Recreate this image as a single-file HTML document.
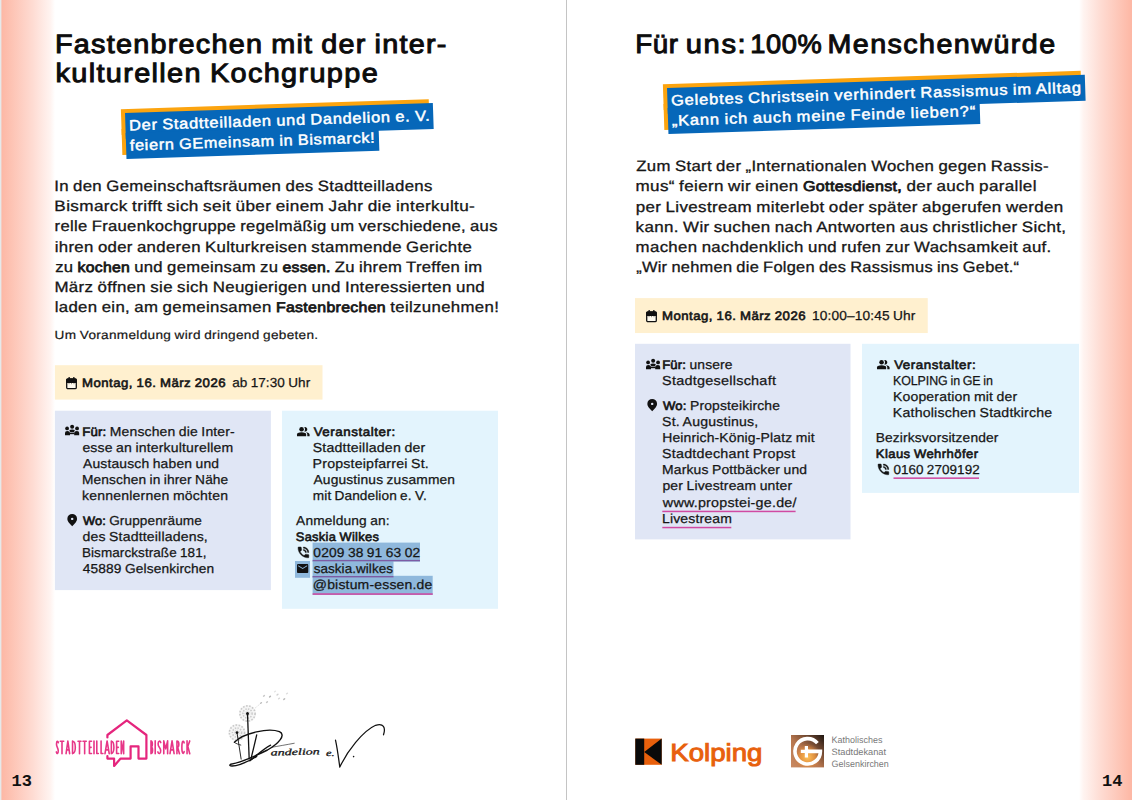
<!DOCTYPE html>
<html lang="de">
<head>
<meta charset="utf-8">
<title>Programmheft S. 13/14</title>
<style>
html,body{margin:0;padding:0;}
body{width:1132px;height:800px;position:relative;overflow:hidden;background:#fff;font-family:"Liberation Sans",sans-serif;}
.abs{position:absolute;}
.t{position:absolute;white-space:nowrap;line-height:1;transform-origin:0 0;font-family:"Liberation Sans",sans-serif;}
.t b{font-weight:400;-webkit-text-stroke:0.045em currentColor;}
.gl{position:absolute;left:1px;top:0;width:54px;height:800px;background:linear-gradient(90deg,#fdb7a4 0%,#fedbd2 58%,#fff4f1 92%,#ffffff 100%);}
.gr{position:absolute;left:1079px;top:0;width:53px;height:800px;background:linear-gradient(270deg,#fdb7a4 0%,#fedbd2 58%,#fff4f1 92%,#ffffff 100%);}
.edge{position:absolute;left:0;top:0;width:2px;height:800px;background:linear-gradient(90deg,#e6e9ea 0,#e6e9ea 1px,#f4ccc1 1px,#f4ccc1 2px);}
.div{position:absolute;left:566px;top:0;width:1px;height:800px;background:#c4c4c4;}
.box{position:absolute;}
.yel{background:#fef0ce;}
.lav{background:#e2e6f6;}
.blu{background:#e3f4fd;}
.lab{position:absolute;transform-origin:0 0;width:0;height:0;}
.or{position:absolute;background:#fca40f;}
.bl{position:absolute;background:#0667b9;}
.hl{position:absolute;background:#8fb8dc;}
.ul{position:absolute;height:1.2px;background:#c4449c;}
.pn{position:absolute;font-family:"Liberation Mono",monospace;font-weight:700;font-size:17px;line-height:1;color:#111;}
svg{position:absolute;overflow:visible;}
</style>
</head>
<body>
<div class="gl"></div>
<div class="gr"></div>
<div class="edge"></div>
<div class="div"></div>

<!-- boxes -->
<svg style="left:0;top:0" width="1132" height="800" viewBox="0 0 1132 800">
<rect x="54.9" y="365.2" width="267.60" height="34.40" fill="#fff0cf"/>
<rect x="54.9" y="410.7" width="216.00" height="179.40" fill="#e0e6f5"/>
<rect x="282" y="410.7" width="216.00" height="198.10" fill="#e3f4fd"/>
<rect x="312.6" y="542.6" width="107.40" height="19.00" fill="#8fb8dc"/>
<rect x="295" y="561" width="15.00" height="16.80" fill="#8fb8dc"/>
<rect x="312.6" y="561" width="80.90" height="16.80" fill="#8fb8dc"/>
<rect x="312.6" y="575.8" width="120.10" height="19.10" fill="#8fb8dc"/>
<rect x="312.6" y="559.9" width="107.40" height="1.40" fill="#7d5ca4"/>
<rect x="312.6" y="576" width="80.90" height="1.40" fill="#7d5ca4"/>
<rect x="312.6" y="593.3" width="120.10" height="1.50" fill="#cf459f"/>
<rect x="635" y="298.1" width="292.75" height="34.95" fill="#fff0cf"/>
<rect x="635" y="343.8" width="215.50" height="195.60" fill="#e0e6f5"/>
<rect x="862" y="343.8" width="217.00" height="149.10" fill="#e3f4fd"/>
<rect x="662.3" y="510.7" width="133.30" height="1.50" fill="#d04aa2"/>
<rect x="662.3" y="526.8" width="69.00" height="1.50" fill="#d04aa2"/>
<rect x="893.5" y="477.4" width="85.50" height="1.50" fill="#cf459f"/>
</svg>

<div class="lab" style="left:125.1px;top:113.15px;transform:rotate(-1.86deg)"><div class="or" style="left:-4px;top:-4px;width:308px;height:25.5px"></div><div class="or" style="left:-4px;top:16px;width:253.3px;height:25.5px"></div><div class="bl" style="left:0;top:0px;width:308px;height:25.5px"></div><div class="bl" style="left:0;top:20px;width:253.3px;height:25.5px"></div><svg style="left:0;top:0" width="10" height="10" font-family="Liberation Sans, sans-serif" text-rendering="geometricPrecision"><text x="3.7" y="17.56" font-size="14.9" fill="#fff" stroke="#fff" stroke-width="0.48" textLength="301.5" lengthAdjust="spacingAndGlyphs" style="word-spacing:-0.670px;letter-spacing:0.696px">Der Stadtteilladen und Dandelion e. V.</text><text x="3.7" y="37.66" font-size="14.9" fill="#fff" stroke="#fff" stroke-width="0.48" textLength="245.8" lengthAdjust="spacingAndGlyphs" style="word-spacing:-0.670px;letter-spacing:0.677px">feiern GEmeinsam in Bismarck!</text></svg></div>
<div class="lab" style="left:667.4px;top:87.7px;transform:rotate(-1.82deg)"><div class="or" style="left:-4px;top:-4px;width:417.6px;height:25.5px"></div><div class="or" style="left:-4px;top:16px;width:312px;height:25.5px"></div><div class="bl" style="left:0;top:0px;width:417.6px;height:25.5px"></div><div class="bl" style="left:0;top:20px;width:312px;height:25.5px"></div><svg style="left:0;top:0" width="10" height="10" font-family="Liberation Sans, sans-serif" text-rendering="geometricPrecision"><text x="3.7" y="17.66" font-size="14.9" fill="#fff" stroke="#fff" stroke-width="0.48" textLength="411.0" lengthAdjust="spacingAndGlyphs" style="word-spacing:-0.670px;letter-spacing:0.767px">Gelebtes Christsein verhindert Rassismus im Alltag</text><text x="3.7" y="37.76" font-size="14.9" fill="#fff" stroke="#fff" stroke-width="0.48" textLength="304.5" lengthAdjust="spacingAndGlyphs" style="word-spacing:-0.670px;letter-spacing:0.792px">„Kann ich auch meine Feinde lieben?“</text></svg></div>
<svg id="txt" style="left:0;top:0" width="1132" height="800" viewBox="0 0 1132 800" font-family="Liberation Sans, sans-serif" text-rendering="geometricPrecision">
<text x="54.94" y="53.31" font-size="26.46" fill="#0c0c0c" stroke="#0c0c0c" stroke-width="0.98" textLength="392.67" lengthAdjust="spacingAndGlyphs" style="word-spacing:-1.191px;letter-spacing:1.142px">Fastenbrechen mit der inter-</text>
<text x="55.49" y="82.21" font-size="26.46" fill="#0c0c0c" stroke="#0c0c0c" stroke-width="0.98" textLength="323.55" lengthAdjust="spacingAndGlyphs" style="word-spacing:-1.191px;letter-spacing:1.231px">kulturellen Kochgruppe</text>
<text x="54.18" y="190.75" font-size="15" fill="#161616" stroke="#161616" stroke-width="0.3" textLength="378.55" lengthAdjust="spacingAndGlyphs" style="word-spacing:-0.675px;letter-spacing:0.291px">In den Gemeinschaftsräumen des Stadtteilladens</text>
<text x="54.39" y="211.03" font-size="15" fill="#161616" stroke="#161616" stroke-width="0.3" textLength="420.81" lengthAdjust="spacingAndGlyphs" style="word-spacing:-0.675px;letter-spacing:0.309px">Bismarck trifft sich seit über einem Jahr die interkultu-</text>
<text x="54.63" y="231.31" font-size="15" fill="#161616" stroke="#161616" stroke-width="0.3" textLength="443.15" lengthAdjust="spacingAndGlyphs" style="word-spacing:-0.675px;letter-spacing:0.268px">relle Frauenkochgruppe regelmäßig um verschiedene, aus</text>
<text x="54.75" y="251.59" font-size="15" fill="#161616" stroke="#161616" stroke-width="0.3" textLength="417.30" lengthAdjust="spacingAndGlyphs" style="word-spacing:-0.675px;letter-spacing:0.288px">ihren oder anderen Kulturkreisen stammende Gerichte</text>
<text x="55.15" y="271.87" font-size="15" fill="#161616" stroke="#161616" stroke-width="0.3" textLength="427.29" lengthAdjust="spacingAndGlyphs" style="word-spacing:-0.675px;letter-spacing:0.269px">zu <tspan stroke-width="0.75" font-size="14.17">kochen</tspan> und gemeinsam zu <tspan stroke-width="0.75" font-size="14.17">essen.</tspan> Zu ihrem Treffen im</text>
<text x="54.44" y="292.15" font-size="15" fill="#161616" stroke="#161616" stroke-width="0.3" textLength="430.65" lengthAdjust="spacingAndGlyphs" style="word-spacing:-0.675px;letter-spacing:0.290px">März öffnen sie sich Neugierigen und Interessierten und</text>
<text x="54.66" y="312.43" font-size="15" fill="#161616" stroke="#161616" stroke-width="0.3" textLength="444.52" lengthAdjust="spacingAndGlyphs" style="word-spacing:-0.675px;letter-spacing:0.298px">laden ein, am gemeinsamen <tspan stroke-width="0.75" font-size="14.17">Fastenbrechen</tspan> teilzunehmen!</text>
<text x="54.59" y="338.75" font-size="12" fill="#161616" stroke="#161616" stroke-width="0.2" textLength="263.85" lengthAdjust="spacingAndGlyphs" style="word-spacing:-0.540px;letter-spacing:0.271px">Um Voranmeldung wird dringend gebeten.</text>
<text x="81.93" y="387.09" font-size="12.29" fill="#161616" stroke="#161616" stroke-width="0.61" textLength="144.15" lengthAdjust="spacingAndGlyphs" style="word-spacing:-0.553px;letter-spacing:0.465px">Montag, 16. März 2026</text>
<text x="232.19" y="387.40" font-size="13" fill="#161616" stroke="#161616" stroke-width="0.25" textLength="78.05" lengthAdjust="spacingAndGlyphs" style="word-spacing:-0.585px;letter-spacing:0.084px">ab 17:30 Uhr</text>
<text x="82.26" y="436.00" font-size="13" fill="#161616" stroke="#161616" stroke-width="0.25" textLength="152.65" lengthAdjust="spacingAndGlyphs" style="word-spacing:-0.585px;letter-spacing:0.147px"><tspan stroke-width="0.65" font-size="12.29">Für:</tspan> Menschen die Inter-</text>
<text x="82.40" y="452.00" font-size="13" fill="#161616" stroke="#161616" stroke-width="0.25" textLength="150.89" lengthAdjust="spacingAndGlyphs" style="word-spacing:-0.585px;letter-spacing:0.154px">esse an interkulturellem</text>
<text x="82.96" y="468.00" font-size="13" fill="#161616" stroke="#161616" stroke-width="0.25" textLength="136.30" lengthAdjust="spacingAndGlyphs" style="word-spacing:-0.585px;letter-spacing:0.154px">Austausch haben und</text>
<text x="82.00" y="484.00" font-size="13" fill="#161616" stroke="#161616" stroke-width="0.25" textLength="146.37" lengthAdjust="spacingAndGlyphs" style="word-spacing:-0.585px;letter-spacing:0.115px">Menschen in ihrer Nähe</text>
<text x="82.11" y="500.00" font-size="13" fill="#161616" stroke="#161616" stroke-width="0.25" textLength="146.03" lengthAdjust="spacingAndGlyphs" style="word-spacing:-0.585px;letter-spacing:0.179px">kennenlernen möchten</text>
<text x="82.96" y="524.50" font-size="13" fill="#161616" stroke="#161616" stroke-width="0.25" textLength="119.02" lengthAdjust="spacingAndGlyphs" style="word-spacing:-0.585px;letter-spacing:0.109px"><tspan stroke-width="0.65" font-size="12.29">Wo:</tspan> Gruppenräume</text>
<text x="82.42" y="540.50" font-size="13" fill="#161616" stroke="#161616" stroke-width="0.25" textLength="125.53" lengthAdjust="spacingAndGlyphs" style="word-spacing:-0.585px;letter-spacing:0.158px">des Stadtteilladens,</text>
<text x="81.98" y="556.50" font-size="13" fill="#161616" stroke="#161616" stroke-width="0.25" textLength="124.59" lengthAdjust="spacingAndGlyphs" style="word-spacing:-0.585px;letter-spacing:0.078px">Bismarckstraße 181,</text>
<text x="82.80" y="572.50" font-size="13" fill="#161616" stroke="#161616" stroke-width="0.25" textLength="131.57" lengthAdjust="spacingAndGlyphs" style="word-spacing:-0.585px;letter-spacing:0.122px">45889 Gelsenkirchen</text>
<text x="313.67" y="435.69" font-size="12.29" fill="#161616" stroke="#161616" stroke-width="0.61" textLength="82.00" lengthAdjust="spacingAndGlyphs" style="word-spacing:-0.553px;letter-spacing:0.502px">Veranstalter:</text>
<text x="312.75" y="452.40" font-size="13" fill="#161616" stroke="#161616" stroke-width="0.25" textLength="112.61" lengthAdjust="spacingAndGlyphs" style="word-spacing:-0.585px;letter-spacing:0.167px">Stadtteilladen der</text>
<text x="312.58" y="468.40" font-size="13" fill="#161616" stroke="#161616" stroke-width="0.25" textLength="116.35" lengthAdjust="spacingAndGlyphs" style="word-spacing:-0.585px;letter-spacing:0.169px">Propsteipfarrei St.</text>
<text x="313.52" y="484.40" font-size="13" fill="#161616" stroke="#161616" stroke-width="0.25" textLength="141.67" lengthAdjust="spacingAndGlyphs" style="word-spacing:-0.585px;letter-spacing:0.141px">Augustinus zusammen</text>
<text x="312.82" y="500.40" font-size="13" fill="#161616" stroke="#161616" stroke-width="0.25" textLength="113.96" lengthAdjust="spacingAndGlyphs" style="word-spacing:-0.585px;letter-spacing:0.093px">mit Dandelion e. V.</text>
<text x="296.09" y="525.00" font-size="13" fill="#161616" stroke="#161616" stroke-width="0.25" textLength="93.58" lengthAdjust="spacingAndGlyphs" style="word-spacing:-0.585px;letter-spacing:0.129px">Anmeldung an:</text>
<text x="295.81" y="540.70" font-size="12.29" fill="#161616" stroke="#161616" stroke-width="0.61" textLength="83.34" lengthAdjust="spacingAndGlyphs" style="word-spacing:-0.553px;letter-spacing:0.287px">Saskia Wilkes</text>
<text x="313.37" y="557.00" font-size="13" fill="#161616" stroke="#161616" stroke-width="0.25" textLength="106.90" lengthAdjust="spacingAndGlyphs" style="word-spacing:-0.585px;letter-spacing:0.125px">0209 38 91 63 02</text>
<text x="313.70" y="573.00" font-size="13" fill="#161616" stroke="#161616" stroke-width="0.25" textLength="79.33" lengthAdjust="spacingAndGlyphs" style="word-spacing:-0.585px;letter-spacing:0.067px">saskia.wilkes</text>
<text x="312.79" y="589.00" font-size="13" fill="#161616" stroke="#161616" stroke-width="0.25" textLength="119.76" lengthAdjust="spacingAndGlyphs" style="word-spacing:-0.585px;letter-spacing:0.175px">@bistum-essen.de</text>
<text x="635.18" y="53.31" font-size="26.46" fill="#0c0c0c" stroke="#0c0c0c" stroke-width="0.98" textLength="43.60" lengthAdjust="spacingAndGlyphs" style="word-spacing:-1.191px;letter-spacing:0.652px">Für</text>
<text x="685.87" y="53.31" font-size="26.46" fill="#0c0c0c" stroke="#0c0c0c" stroke-width="0.98" textLength="61.31" lengthAdjust="spacingAndGlyphs" style="word-spacing:-1.191px;letter-spacing:1.412px">uns:</text>
<text x="750.33" y="53.31" font-size="26.46" fill="#0c0c0c" stroke="#0c0c0c" stroke-width="0.98" textLength="71.82" lengthAdjust="spacingAndGlyphs" style="word-spacing:-1.191px;letter-spacing:0.519px">100%</text>
<text x="827.43" y="53.31" font-size="26.46" fill="#0c0c0c" stroke="#0c0c0c" stroke-width="0.98" textLength="229.15" lengthAdjust="spacingAndGlyphs" style="word-spacing:-1.191px;letter-spacing:1.348px">Menschenwürde</text>
<text x="636.29" y="170.80" font-size="15" fill="#161616" stroke="#161616" stroke-width="0.3" textLength="412.56" lengthAdjust="spacingAndGlyphs" style="word-spacing:-0.675px;letter-spacing:0.282px">Zum Start der „Internationalen Wochen gegen Rassis-</text>
<text x="635.57" y="191.35" font-size="15" fill="#161616" stroke="#161616" stroke-width="0.3" textLength="401.23" lengthAdjust="spacingAndGlyphs" style="word-spacing:-0.675px;letter-spacing:0.302px">mus“ feiern wir einen <tspan stroke-width="0.75" font-size="14.17">Gottesdienst,</tspan> der auch parallel</text>
<text x="635.72" y="211.60" font-size="15" fill="#161616" stroke="#161616" stroke-width="0.3" textLength="427.94" lengthAdjust="spacingAndGlyphs" style="word-spacing:-0.675px;letter-spacing:0.311px">per Livestream miterlebt oder später abgerufen werden</text>
<text x="635.61" y="231.85" font-size="15" fill="#161616" stroke="#161616" stroke-width="0.3" textLength="430.68" lengthAdjust="spacingAndGlyphs" style="word-spacing:-0.675px;letter-spacing:0.300px">kann. Wir suchen nach Antworten aus christlicher Sicht,</text>
<text x="635.63" y="252.10" font-size="15" fill="#161616" stroke="#161616" stroke-width="0.3" textLength="416.01" lengthAdjust="spacingAndGlyphs" style="word-spacing:-0.675px;letter-spacing:0.298px">machen nachdenklich und rufen zur Wachsamkeit auf.</text>
<text x="636.21" y="272.35" font-size="15" fill="#161616" stroke="#161616" stroke-width="0.3" textLength="383.12" lengthAdjust="spacingAndGlyphs" style="word-spacing:-0.675px;letter-spacing:0.231px">„Wir nehmen die Folgen des Rassismus ins Gebet.“</text>
<text x="661.93" y="320.09" font-size="12.29" fill="#161616" stroke="#161616" stroke-width="0.61" textLength="144.15" lengthAdjust="spacingAndGlyphs" style="word-spacing:-0.553px;letter-spacing:0.465px">Montag, 16. März 2026</text>
<text x="812.09" y="320.40" font-size="13" fill="#161616" stroke="#161616" stroke-width="0.25" textLength="103.31" lengthAdjust="spacingAndGlyphs" style="word-spacing:-0.585px;letter-spacing:0.117px">10:00–10:45 Uhr</text>
<text x="662.21" y="368.90" font-size="13" fill="#161616" stroke="#161616" stroke-width="0.25" textLength="70.53" lengthAdjust="spacingAndGlyphs" style="word-spacing:-0.585px;letter-spacing:0.135px"><tspan stroke-width="0.65" font-size="12.29">Für:</tspan> unsere</text>
<text x="662.10" y="385.10" font-size="13" fill="#161616" stroke="#161616" stroke-width="0.25" textLength="114.06" lengthAdjust="spacingAndGlyphs" style="word-spacing:-0.585px;letter-spacing:0.221px">Stadtgesellschaft</text>
<text x="663.02" y="410.00" font-size="13" fill="#161616" stroke="#161616" stroke-width="0.25" textLength="117.08" lengthAdjust="spacingAndGlyphs" style="word-spacing:-0.585px;letter-spacing:0.140px"><tspan stroke-width="0.65" font-size="12.29">Wo:</tspan> Propsteikirche</text>
<text x="662.09" y="426.10" font-size="13" fill="#161616" stroke="#161616" stroke-width="0.25" textLength="96.35" lengthAdjust="spacingAndGlyphs" style="word-spacing:-0.585px;letter-spacing:0.170px">St. Augustinus,</text>
<text x="662.19" y="442.20" font-size="13" fill="#161616" stroke="#161616" stroke-width="0.25" textLength="152.54" lengthAdjust="spacingAndGlyphs" style="word-spacing:-0.585px;letter-spacing:0.143px">Heinrich-König-Platz mit</text>
<text x="661.98" y="458.25" font-size="13" fill="#161616" stroke="#161616" stroke-width="0.25" textLength="133.49" lengthAdjust="spacingAndGlyphs" style="word-spacing:-0.585px;letter-spacing:0.214px">Stadtdechant Propst</text>
<text x="661.99" y="474.30" font-size="13" fill="#161616" stroke="#161616" stroke-width="0.25" textLength="145.21" lengthAdjust="spacingAndGlyphs" style="word-spacing:-0.585px;letter-spacing:0.151px">Markus Pottbäcker und</text>
<text x="662.43" y="490.40" font-size="13" fill="#161616" stroke="#161616" stroke-width="0.25" textLength="129.84" lengthAdjust="spacingAndGlyphs" style="word-spacing:-0.585px;letter-spacing:0.147px">per Livestream unter</text>
<text x="662.88" y="506.50" font-size="13" fill="#161616" stroke="#161616" stroke-width="0.25" textLength="133.81" lengthAdjust="spacingAndGlyphs" style="word-spacing:-0.585px;letter-spacing:0.211px">www.propstei-ge.de/</text>
<text x="661.93" y="522.50" font-size="13" fill="#161616" stroke="#161616" stroke-width="0.25" textLength="70.21" lengthAdjust="spacingAndGlyphs" style="word-spacing:-0.585px;letter-spacing:0.166px">Livestream</text>
<text x="894.16" y="369.19" font-size="12.29" fill="#161616" stroke="#161616" stroke-width="0.61" textLength="82.10" lengthAdjust="spacingAndGlyphs" style="word-spacing:-0.553px;letter-spacing:0.506px">Veranstalter:</text>
<text x="893.02" y="385.40" font-size="13" fill="#161616" stroke="#161616" stroke-width="0.25" textLength="99.84" lengthAdjust="spacingAndGlyphs" style="word-spacing:-0.585px;letter-spacing:-0.095px">KOLPING in GE in</text>
<text x="892.91" y="401.40" font-size="13" fill="#161616" stroke="#161616" stroke-width="0.25" textLength="124.43" lengthAdjust="spacingAndGlyphs" style="word-spacing:-0.585px;letter-spacing:0.160px">Kooperation mit der</text>
<text x="892.89" y="417.40" font-size="13" fill="#161616" stroke="#161616" stroke-width="0.25" textLength="159.49" lengthAdjust="spacingAndGlyphs" style="word-spacing:-0.585px;letter-spacing:0.177px">Katholischen Stadtkirche</text>
<text x="875.66" y="442.00" font-size="13" fill="#161616" stroke="#161616" stroke-width="0.25" textLength="122.92" lengthAdjust="spacingAndGlyphs" style="word-spacing:-0.585px;letter-spacing:0.125px">Bezirksvorsitzender</text>
<text x="875.78" y="457.69" font-size="12.29" fill="#161616" stroke="#161616" stroke-width="0.61" textLength="102.64" lengthAdjust="spacingAndGlyphs" style="word-spacing:-0.553px;letter-spacing:0.398px">Klaus Wehrhöfer</text>
<text x="893.40" y="473.75" font-size="13" fill="#161616" stroke="#161616" stroke-width="0.25" textLength="86.43" lengthAdjust="spacingAndGlyphs" style="word-spacing:-0.585px;letter-spacing:0.081px">0160 2709192</text>
</svg>

<svg style="left:66.2px;top:376.8px" width="11" height="12.4" viewBox="0 0 11 12.4"><rect x="0.7" y="1.9" width="9.6" height="9.8" rx="1.2" fill="#fffbef" stroke="#111" stroke-width="1.3"/><path d="M0.1 6 V3 Q0.1 1.5 1.5 1.5 H9.5 Q10.9 1.5 10.9 3 V6 Z" fill="#111"/><rect x="2.5" y="0" width="1.3" height="2.4" fill="#111"/><rect x="7.2" y="0" width="1.3" height="2.4" fill="#111"/><rect x="2.6" y="6" width="0.8" height="1.2" fill="#8a8578"/><rect x="5.1" y="6" width="0.8" height="1.2" fill="#8a8578"/><rect x="7.6" y="6" width="0.8" height="1.2" fill="#8a8578"/></svg>
<svg style="left:65px;top:425.2px" width="14.2" height="10.2" viewBox="0 0 14.2 10.2"><circle cx="2.1" cy="3.4" r="1.9" fill="#111"/><circle cx="7.15" cy="1.85" r="2.0" fill="#111"/><circle cx="12.1" cy="3.4" r="1.9" fill="#111"/><path d="M4.3 4.9 Q7.1 4.3 9.9 4.9 L8.9 7.3 H5.3 Z" fill="#111"/><path d="M0 10.2 V7.9 Q0 6.0 2.3 6.0 Q5 6.0 5 7.9 V10.2 Z" fill="#111"/><path d="M9.2 10.2 V7.9 Q9.2 6.0 11.9 6.0 Q14.2 6.0 14.2 7.9 V10.2 Z" fill="#111"/><rect x="4.6" y="7.8" width="5" height="1.4" fill="#111"/></svg>
<svg style="left:66.9px;top:513.7px" width="10.4" height="12.2" viewBox="4 2 16 20"><path d="M12 12q.825 0 1.413-.587T14 10t-.587-1.412T12 8t-1.412.588T10 10t.588 1.413T12 12m0 10q-4.025-3.425-6.012-6.362T4 10.2q0-3.750 2.413-5.975T12 2t5.588 2.225T20 10.2q0 2.500-1.987 5.438T12 22" fill="#111" fill-rule="evenodd"/></svg>
<svg style="left:296.7px;top:426.7px" width="12.6" height="9.2" viewBox="1 4 22 16"><circle cx="9" cy="8" r="4" fill="#111"/><path d="M1 20 v-2.8 q0-1.8 1.6-2.65 q3-1.55 6.4-1.55 t6.4 1.55 q1.600.85 1.600 2.650 V20 Z" fill="#111"/><path d="M13.6 4.200 q.7-.2 1.4-.2 q1.650 0 2.825 1.175 T19 8 t-1.175 2.825 T15 12 q-.7 0-1.400-.2 q1.400-1.600 1.400-3.800 t-1.400-3.800 Z" fill="#111"/><path d="M19 20 v-3 q0-2.300-2.350-3.850 q2.500.3 4.500 1.400 q1.850 1 1.850 2.450 v3 Z" fill="#111"/></svg>
<svg style="left:297.6px;top:547.2px" width="10.8" height="10.8" viewBox="3 3 18 18"><path d="M20 15.5c-1.250 0-2.450-.2-3.570-.57-.35-.11-.74-.03-1.020.24l-2.200 2.200c-2.830-1.440-5.150-3.750-6.590-6.590l2.200-2.210c.28-.26.36-.65.25-1C8.700 6.450 8.500 5.250 8.500 4c0-.55-.45-1-1-1H4c-.55 0-1 .45-1 1 0 9.390 7.610 17 17 17 .55 0 1-.45 1-1v-3.500c0-.55-.45-1-1-1zM19 12h2c0-4.970-4.030-9-9-9v2c3.870 0 7 3.130 7 7zm-4 0h2c0-2.760-2.240-5-5-5v2c1.660 0 3 1.340 3 3z" fill="#111" stroke="#111" stroke-width="0.7"/></svg>
<svg style="left:297px;top:564px" width="11.3" height="9" viewBox="2 4 20 16"><path d="M20 4H4c-1.100 0-1.990.9-1.990 2L2 18c0 1.100.9 2 2 2h16c1.100 0 2-.9 2-2V6c0-1.100-.9-2-2-2zm0 4l-8 5-8-5V6l8 5 8-5v2z" fill="#111"/></svg>
<svg style="left:646.3px;top:309.8px" width="11" height="12.4" viewBox="0 0 11 12.4"><rect x="0.7" y="1.9" width="9.6" height="9.8" rx="1.2" fill="#fffbef" stroke="#111" stroke-width="1.3"/><path d="M0.1 6 V3 Q0.1 1.5 1.5 1.5 H9.5 Q10.9 1.5 10.9 3 V6 Z" fill="#111"/><rect x="2.5" y="0" width="1.3" height="2.4" fill="#111"/><rect x="7.2" y="0" width="1.3" height="2.4" fill="#111"/><rect x="2.6" y="6" width="0.8" height="1.2" fill="#8a8578"/><rect x="5.1" y="6" width="0.8" height="1.2" fill="#8a8578"/><rect x="7.6" y="6" width="0.8" height="1.2" fill="#8a8578"/></svg>
<svg style="left:645.6px;top:359.3px" width="14.2" height="10.2" viewBox="0 0 14.2 10.2"><circle cx="2.1" cy="3.4" r="1.9" fill="#111"/><circle cx="7.15" cy="1.85" r="2.0" fill="#111"/><circle cx="12.1" cy="3.4" r="1.9" fill="#111"/><path d="M4.3 4.9 Q7.1 4.3 9.9 4.9 L8.9 7.3 H5.3 Z" fill="#111"/><path d="M0 10.2 V7.9 Q0 6.0 2.3 6.0 Q5 6.0 5 7.9 V10.2 Z" fill="#111"/><path d="M9.2 10.2 V7.9 Q9.2 6.0 11.9 6.0 Q14.2 6.0 14.2 7.9 V10.2 Z" fill="#111"/><rect x="4.6" y="7.8" width="5" height="1.4" fill="#111"/></svg>
<svg style="left:647px;top:399.2px" width="10.4" height="12.2" viewBox="4 2 16 20"><path d="M12 12q.825 0 1.413-.587T14 10t-.587-1.412T12 8t-1.412.588T10 10t.588 1.413T12 12m0 10q-4.025-3.425-6.012-6.362T4 10.2q0-3.750 2.413-5.975T12 2t5.588 2.225T20 10.2q0 2.500-1.987 5.438T12 22" fill="#111" fill-rule="evenodd"/></svg>
<svg style="left:877.1px;top:359.5px" width="12.6" height="9.2" viewBox="1 4 22 16"><circle cx="9" cy="8" r="4" fill="#111"/><path d="M1 20 v-2.8 q0-1.8 1.6-2.65 q3-1.55 6.4-1.55 t6.4 1.55 q1.600.85 1.600 2.650 V20 Z" fill="#111"/><path d="M13.6 4.200 q.7-.2 1.4-.2 q1.650 0 2.825 1.175 T19 8 t-1.175 2.825 T15 12 q-.7 0-1.400-.2 q1.400-1.600 1.400-3.800 t-1.400-3.800 Z" fill="#111"/><path d="M19 20 v-3 q0-2.300-2.350-3.850 q2.500.3 4.500 1.400 q1.850 1 1.850 2.450 v3 Z" fill="#111"/></svg>
<svg style="left:877.7px;top:464.0px" width="10.8" height="10.8" viewBox="3 3 18 18"><path d="M20 15.5c-1.250 0-2.450-.2-3.570-.57-.35-.11-.74-.03-1.020.24l-2.200 2.200c-2.830-1.440-5.150-3.750-6.590-6.590l2.200-2.210c.28-.26.36-.65.25-1C8.700 6.450 8.500 5.250 8.500 4c0-.55-.45-1-1-1H4c-.55 0-1 .45-1 1 0 9.390 7.610 17 17 17 .55 0 1-.45 1-1v-3.500c0-.55-.45-1-1-1zM19 12h2c0-4.970-4.030-9-9-9v2c3.870 0 7 3.130 7 7zm-4 0h2c0-2.760-2.240-5-5-5v2c1.660 0 3 1.340 3 3z" fill="#111" stroke="#111" stroke-width="0.7"/></svg>
<svg style="left:0;top:0" width="1132" height="800" viewBox="0 0 1132 800"><path d="M107.4 737.4 V735 L126.8 720.3 L146.4 735 V758.6 H138.5 V746.3 H130.6 V758.6 H120.6 L114.1 765.9 V758.6 H107.4 V756.1" fill="none" stroke="#e5257d" stroke-width="2.2" stroke-linejoin="round" stroke-linecap="round"/><path d="M 58.30 742.65 C 57.88 740.62 56.61 740.62 56.51 743.92 C 56.41 746.97 58.19 747.60 58.25 750.78 C 58.32 754.08 56.83 754.21 56.34 751.92 M 60.30 741.25 H 63.70 M 62.00 741.25 V 753.70 M 66.07 753.70 L 67.85 741.00 L 69.63 753.70 M 66.81 749.89 H 68.89 M 72.54 741.00 V 753.70 M 72.54 741.25 C 74.86 741.25 75.30 744.81 75.30 747.35 C 75.30 749.89 74.86 753.45 72.54 753.45 M 78.00 741.25 H 81.00 M 79.50 741.25 V 753.70 M 83.00 741.25 H 86.30 M 84.65 741.25 V 753.70 M 91.49 741.25 H 89.41 V 753.45 H 91.49 M 89.41 747.35 H 91.14 M 94.00 741.00 V 753.70 M 96.78 741.00 V 753.45 H 98.30 M 101.09 741.00 V 753.45 H 102.90 M 104.99 753.70 L 107.10 741.00 L 109.21 753.70 M 105.87 749.89 H 108.33 M 111.34 741.00 V 753.70 M 111.34 741.25 C 113.50 741.25 113.90 744.81 113.90 747.35 C 113.90 749.89 113.50 753.45 111.34 753.45 M 118.69 741.25 H 116.61 V 753.45 H 118.69 M 116.61 747.35 H 118.34 M 121.23 753.70 V 741.00 L 123.66 753.70 V 741.00 M 151.00 740.90 V 753.70 M 151.00 741.16 C 152.80 741.16 152.80 747.04 151.00 747.04 M 151.00 747.04 C 153.08 747.04 153.08 753.44 151.00 753.44 M 155.20 740.90 V 753.70 M 160.74 742.56 C 160.12 740.52 158.27 740.52 158.11 743.84 C 157.96 746.92 160.59 747.56 160.68 750.76 C 160.78 754.08 158.57 754.21 157.86 751.91 M 163.77 753.70 V 740.90 L 165.70 748.84 L 167.63 740.90 V 753.70 M 169.99 753.70 L 172.05 740.90 L 174.11 753.70 M 170.85 749.86 H 173.25 M 176.94 753.70 V 741.16 C 179.50 741.16 179.50 747.56 176.94 747.56 M 177.75 747.56 L 179.45 753.70 M 184.13 742.95 C 183.72 740.26 181.87 740.13 181.87 747.30 C 181.87 754.47 183.72 754.34 184.13 751.65 M 187.05 740.90 V 753.70 M 189.74 740.90 L 187.05 748.58 M 187.83 746.28 L 189.74 753.70" fill="none" stroke="#e5257d" stroke-width="1.6" stroke-linejoin="round" stroke-linecap="round" opacity="0.92"/></svg>
<svg style="left:0;top:0" width="1132" height="800" viewBox="0 0 1132 800"><defs><radialGradient id="dg"><stop offset="0" stop-color="#777" stop-opacity=".55"/><stop offset=".7" stop-color="#999" stop-opacity=".35"/><stop offset="1" stop-color="#bbb" stop-opacity="0"/></radialGradient></defs><circle cx="247.5" cy="713.5" r="8.6" fill="#999" opacity="0.10"/><circle cx="247.5" cy="713.5" r="7.6" fill="none" stroke="#8a8a8a" stroke-width="1.6" stroke-dasharray="1.6 1.5" opacity="0.42"/><circle cx="247.5" cy="713.5" r="4.6" fill="none" stroke="#8a8a8a" stroke-width="1.5" stroke-dasharray="1.4 1.3" opacity="0.40"/><circle cx="247.5" cy="713.5" r="2.4" fill="none" stroke="#8a8a8a" stroke-width="1" stroke-dasharray="1 1" opacity="0.35"/><circle cx="237.0" cy="732.6" r="8.6" fill="#999" opacity="0.10"/><circle cx="237.0" cy="732.6" r="7.6" fill="none" stroke="#8a8a8a" stroke-width="1.6" stroke-dasharray="1.6 1.5" opacity="0.42"/><circle cx="237.0" cy="732.6" r="4.6" fill="none" stroke="#8a8a8a" stroke-width="1.5" stroke-dasharray="1.4 1.3" opacity="0.40"/><circle cx="237.0" cy="732.6" r="2.4" fill="none" stroke="#8a8a8a" stroke-width="1" stroke-dasharray="1 1" opacity="0.35"/><circle cx="247.5" cy="713.5" r="1.5" fill="#111"/><circle cx="237" cy="732.6" r="1.4" fill="#111"/><path d="M247.5 713.5 L249.2 759.5" stroke="#111" stroke-width="1.3" fill="none"/><path d="M237 732.6 L241.2 759.5" stroke="#111" stroke-width="0.9" fill="none"/><path d="M255 708.2 L260 704" stroke="#999" stroke-width="0.6" stroke-dasharray="1 1" fill="none" opacity=".6"/><ellipse cx="261" cy="703" rx="1.3" ry="0.8" transform="rotate(-40 261 703)" fill="#777" opacity="0.5"/><ellipse cx="267" cy="702.2" rx="1.3" ry="0.8" transform="rotate(-40 267 702.2)" fill="#777" opacity="0.4"/><ellipse cx="264" cy="695.9" rx="1.3" ry="0.8" transform="rotate(-40 264 695.9)" fill="#777" opacity="0.4"/><ellipse cx="270" cy="696.6" rx="1.3" ry="0.8" transform="rotate(-40 270 696.6)" fill="#777" opacity="0.55"/><ellipse cx="277.5" cy="694.7" rx="1.3" ry="0.8" transform="rotate(-40 277.5 694.7)" fill="#777" opacity="0.35"/><ellipse cx="279" cy="698.5" rx="1.3" ry="0.8" transform="rotate(-40 279 698.5)" fill="#777" opacity="0.3"/><ellipse cx="284.2" cy="699.2" rx="1.3" ry="0.8" transform="rotate(-40 284.2 699.2)" fill="#777" opacity="0.5"/><ellipse cx="287" cy="693.5" rx="1.3" ry="0.8" transform="rotate(-40 287 693.5)" fill="#777" opacity="0.25"/><ellipse cx="275" cy="691.5" rx="1.3" ry="0.8" transform="rotate(-40 275 691.5)" fill="#777" opacity="0.2"/><path d="M234.4 742.3 C243.6 732.5 269.1 727.7 279.4 731.7 C286.5 734.8 278.6 743.6 267.5 750.0 C254.7 756.3 238.8 762.7 230.6 764.3 C227.7 766.6 234.1 766.6 240.4 764.3 C246.8 761.9 253.2 758.7 256.7 756.3" stroke="#111" stroke-width="1.4" fill="none" stroke-linecap="round"/><path d="M256.7 734.8 C254.7 743.6 252.4 753.1 250.6 760.3 C256.3 755.5 264.3 748.4 270.6 745.2" stroke="#111" stroke-width="1.3" fill="none" stroke-linecap="round"/><path d="M234.4 742.3 C235.7 743.6 238.8 744.4 241.2 745.2" stroke="#111" stroke-width="0.8" fill="none"/><path d="M335.5 740.1 C337.4 748.4 338.7 759.5 339.8 767.1 C347.0 751.5 362.9 730.9 375.6 725.3 C383.5 722.6 385.9 727.7 383.5 734.8" stroke="#111" stroke-width="1.25" fill="none" stroke-linecap="round" stroke-linejoin="round"/><circle cx="353.6" cy="756.6" r="0.8" fill="#111"/></svg>
<svg style="left:0;top:0" width="1132" height="800" viewBox="0 0 1132 800" font-family="Liberation Serif, serif" font-style="italic" text-rendering="geometricPrecision"><text x="270.8" y="755.6" font-size="9.2" fill="#111" stroke="#111" stroke-width="0.25" textLength="49" lengthAdjust="spacingAndGlyphs" transform="rotate(-1.5 270 755)">andelion</text><text x="326" y="755.8" font-size="9.2" fill="#111" stroke="#111" stroke-width="0.25" textLength="8.6" lengthAdjust="spacingAndGlyphs">e.</text><path d="M271.5 747.3 C278 746.2 287 744.6 294.6 743.2" stroke="#111" stroke-width="0.6" fill="none"/></svg>
<svg style="left:0;top:0" width="1132" height="800" viewBox="0 0 1132 800" font-family="Liberation Sans, sans-serif" text-rendering="geometricPrecision"><rect x="635.3" y="738.6" width="26.40" height="26.20" fill="#e8600c"/><rect x="635.3" y="738.6" width="8.90" height="26.20" fill="#0a0a0a"/><path d="M661.7 738.6 L644.1999999999999 752.00 L661.7 764.8 Z" fill="#0a0a0a"/><text x="670.3" y="761.3" font-size="24.6" fill="#e8600c" stroke="#e8600c" stroke-width="0.95" textLength="92.2" lengthAdjust="spacingAndGlyphs">Kolping</text></svg>
<svg style="left:791.1px;top:734.5px" width="33" height="32.4" viewBox="0 0 33 32.4"><defs><linearGradient id="kg1" x1="0" y1="1" x2="1" y2="0"><stop offset="0" stop-color="#c98a62"/><stop offset=".45" stop-color="#b7764e"/><stop offset=".8" stop-color="#5a3a28"/><stop offset="1" stop-color="#1c1410"/></linearGradient><radialGradient id="kg2" cx=".5" cy=".68" r=".42"><stop offset="0" stop-color="#ffc45a" stop-opacity="1"/><stop offset=".55" stop-color="#f09a3c" stop-opacity=".75"/><stop offset="1" stop-color="#d07a40" stop-opacity="0"/></radialGradient></defs><rect width="33" height="32.4" fill="url(#kg1)"/><rect width="33" height="32.4" fill="url(#kg2)"/><path d="M26.4 8.1 A12.7 12.7 0 1 0 29.4 16.4 H17" fill="none" stroke="#fff" stroke-width="3.6" stroke-linecap="butt"/><path d="M15.4 10.9 V22.4 M9.8 16.4 H18" fill="none" stroke="#fff" stroke-width="3.2"/></svg>
<svg style="left:0;top:0" width="1132" height="800" viewBox="0 0 1132 800" font-family="Liberation Sans, sans-serif" text-rendering="geometricPrecision">
<text x="831.6" y="742.90" font-size="9.3" fill="#787878" textLength="50.80" lengthAdjust="spacingAndGlyphs">Katholisches</text>
<text x="831.6" y="755.10" font-size="9.3" fill="#787878" textLength="54.40" lengthAdjust="spacingAndGlyphs">Stadtdekanat</text>
<text x="831.6" y="767.30" font-size="9.3" fill="#787878" textLength="57.20" lengthAdjust="spacingAndGlyphs">Gelsenkirchen</text>
</svg>

<div class="pn" style="left:11.5px;top:772.5px">13</div>
<div class="pn" style="left:1102px;top:772.5px">14</div>
</body>
</html>
